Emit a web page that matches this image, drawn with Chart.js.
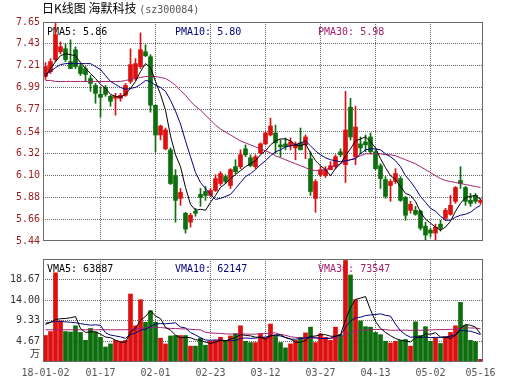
<!DOCTYPE html>
<html><head><meta charset="utf-8">
<script src="https://cdn.jsdelivr.net/npm/chart.js"></script>
<style>
html,body{margin:0;padding:0;background:#fff;width:530px;height:391px;overflow:hidden}
#c1{position:absolute;left:0;top:0}
#c2{position:absolute;left:0;top:250px}
#title{position:absolute;left:42px;top:0px;line-height:16px;font-size:12px;font-family:"Noto Sans CJK SC";color:#000;white-space:nowrap}
#title span{font-family:"DejaVu Sans Mono";font-size:10px;color:#555}
</style></head><body>
<canvas id="c1" width="530" height="250"></canvas>
<canvas id="c2" width="530" height="141"></canvas>
<div id="title">日K线图 海默科技 <span>(sz300084)</span></div>
<script>
// ---- data ----
const dateLabels = ['18-01-02','01-17','02-01','02-23','03-12','03-27','04-13','05-02','05-16'];
const dateIdx = [0,11,22,33,44,55,66,77,87];
const priceTicks = [5.44,5.66,5.88,6.10,6.32,6.54,6.77,6.99,7.21,7.43,7.65];
const volTicks = [4.67,9.33,14.00,18.67];
const volMax = 23.33;
const priceLegend = ['PMA5: 5.86','PMA10: 5.80','PMA30: 5.98'];
const volLegend = ['VMA5: 63887','VMA10: 62147','VMA30: 73547'];

const opens = [7.10,7.15,7.27,7.35,7.38,7.25,7.37,7.20,7.18,7.08,
7.01,6.92,6.99,6.90,6.88,6.88,6.91,7.05,7.08,7.20,
7.35,7.30,6.81,6.51,6.37,6.36,6.10,5.87,5.72,5.63,
5.74,5.91,5.94,5.90,5.95,6.02,6.09,6.00,6.19,6.19,
6.37,6.28,6.19,6.33,6.42,6.51,6.53,6.41,6.42,6.40,
6.38,6.43,6.41,6.27,5.87,6.11,6.10,6.16,6.19,6.34,
6.21,6.79,6.29,6.42,6.44,6.49,6.34,6.20,6.06,6.00,
6.04,6.07,5.88,5.75,5.75,5.74,5.59,5.55,5.52,5.61,
5.67,5.71,5.84,6.05,5.98,5.85,5.90,5.83];
const highs = [7.24,7.28,7.65,7.45,7.43,7.47,7.40,7.23,7.20,7.11,
7.03,6.99,7.01,6.91,6.93,6.93,7.03,7.38,7.28,7.54,
7.42,7.32,6.81,6.61,6.58,6.38,6.16,5.97,5.73,5.72,
5.77,5.97,5.99,5.97,6.11,6.14,6.11,6.17,6.26,6.36,
6.41,6.31,6.31,6.43,6.54,6.68,6.61,6.46,6.48,6.48,
6.44,6.58,6.51,6.34,6.06,6.19,6.19,6.24,6.31,6.37,
6.95,6.88,6.80,6.49,6.51,6.53,6.36,6.22,6.09,6.06,
6.17,6.09,5.89,5.84,5.79,5.75,5.63,5.57,5.61,5.65,
5.77,5.90,5.99,6.19,5.99,5.92,5.92,5.87];
const lows = [7.07,7.13,7.25,7.33,7.25,7.18,7.18,7.11,7.05,6.95,
6.83,6.69,6.90,6.80,6.71,6.85,6.90,7.03,7.06,7.18,
7.30,6.74,6.34,6.46,6.36,6.01,5.63,5.80,5.52,5.58,
5.69,5.79,5.85,5.89,5.94,6.00,6.02,5.97,6.12,6.17,
6.29,6.19,6.17,6.32,6.41,6.50,6.32,6.29,6.36,6.36,
6.26,6.36,6.27,5.90,5.73,6.09,6.08,6.16,6.17,6.29,
6.03,6.46,6.21,6.32,6.34,6.32,6.16,5.97,5.87,5.84,
6.02,5.84,5.65,5.72,5.70,5.55,5.45,5.48,5.45,5.54,
5.65,5.70,5.82,5.97,5.80,5.79,5.82,5.81];
const closes = [7.20,7.25,7.52,7.40,7.27,7.18,7.20,7.13,7.12,7.03,
6.93,6.89,6.92,6.85,6.90,6.91,7.01,7.22,7.23,7.37,
7.31,6.81,6.51,6.60,6.56,6.02,5.85,5.93,5.56,5.70,
5.72,5.88,5.90,5.95,6.07,6.12,6.04,6.16,6.14,6.31,
6.31,6.20,6.29,6.42,6.53,6.60,6.43,6.39,6.39,6.44,
6.42,6.36,6.49,5.94,6.04,6.16,6.16,6.20,6.29,6.31,
6.56,6.49,6.59,6.38,6.41,6.34,6.17,6.07,5.89,6.04,
6.12,5.85,5.70,5.81,5.71,5.57,5.50,5.52,5.58,5.57,
5.75,5.80,5.98,6.02,5.84,5.82,5.84,5.85];
const pma5 = [7.10,7.18,7.25,7.31,7.33,7.32,7.31,7.24,7.18,7.13,
7.08,7.02,6.98,6.92,6.90,6.89,6.92,6.98,7.05,7.15,
7.23,7.19,7.05,6.92,6.76,6.50,6.31,6.19,5.98,5.81,
5.75,5.76,5.75,5.83,5.90,5.98,6.02,6.07,6.11,6.15,
6.19,6.22,6.25,6.31,6.35,6.41,6.45,6.47,6.47,6.45,
6.41,6.40,6.42,6.33,6.25,6.20,6.16,6.10,6.17,6.22,
6.30,6.37,6.45,6.47,6.49,6.44,6.38,6.27,6.18,6.10,
6.06,5.99,5.92,5.90,5.84,5.73,5.66,5.62,5.58,5.55,
5.58,5.64,5.74,5.82,5.88,5.89,5.90,5.86];
const pma10 = [7.12,7.15,7.19,7.22,7.23,7.23,7.23,7.23,7.23,7.23,
7.20,7.17,7.11,7.05,7.02,6.99,6.97,6.98,6.99,7.02,
7.06,7.05,7.01,6.99,6.95,6.86,6.75,6.62,6.45,6.29,
6.13,6.03,5.97,5.91,5.86,5.87,5.89,5.91,5.97,6.03,
6.09,6.12,6.16,6.21,6.25,6.30,6.34,6.36,6.39,6.40,
6.41,6.43,6.45,6.40,6.35,6.31,6.28,6.26,6.25,6.24,
6.25,6.26,6.27,6.32,6.36,6.37,6.37,6.36,6.32,6.29,
6.25,6.19,6.10,6.04,5.97,5.89,5.83,5.77,5.74,5.69,
5.65,5.65,5.68,5.70,5.71,5.73,5.77,5.80];
const pma30 = [7.06,7.06,7.05,7.05,7.05,7.05,7.05,7.05,7.05,7.05,
7.05,7.05,7.05,7.05,7.05,7.05,7.06,7.07,7.08,7.09,
7.10,7.10,7.10,7.09,7.08,7.05,7.01,6.96,6.91,6.85,
6.80,6.76,6.71,6.66,6.61,6.57,6.54,6.51,6.48,6.45,
6.43,6.41,6.39,6.37,6.35,6.33,6.30,6.28,6.26,6.24,
6.22,6.20,6.18,6.16,6.15,6.15,6.16,6.18,6.20,6.22,
6.24,6.26,6.28,6.30,6.32,6.32,6.32,6.32,6.31,6.31,
6.30,6.28,6.26,6.24,6.22,6.19,6.16,6.13,6.10,6.07,
6.05,6.04,6.03,6.02,6.01,6.00,5.99,5.98];
const volume = [6.0,6.9,20.2,9.3,6.9,6.8,8.2,6.7,4.9,7.6,
6.8,5.6,3.4,4.1,4.9,4.7,4.9,15.4,8.2,14.1,
9.0,11.6,9.0,5.4,4.1,5.9,6.0,6.0,6.0,3.6,
3.6,5.4,3.8,4.7,4.9,5.6,4.9,5.9,6.4,8.2,
4.7,4.4,4.4,6.4,5.6,8.6,5.8,4.4,3.2,4.1,
4.9,5.6,6.6,7.9,4.4,6.4,5.6,4.9,7.9,6.2,
23.0,19.7,14.1,9.3,8.0,7.9,6.7,6.2,4.7,4.3,
4.7,4.9,5.1,3.6,9.1,6.0,8.0,4.7,5.4,4.2,
5.7,6.7,8.2,13.5,8.3,4.9,4.6,0.6];
const vma5 = [8.5,9.0,9.6,9.8,9.86,10.02,10.28,7.58,6.70,6.84,
6.84,6.32,5.66,5.50,4.96,4.54,4.40,6.80,7.62,9.46,
10.32,11.66,10.38,9.82,7.82,7.20,6.08,5.48,5.60,5.50,
5.04,4.92,4.48,4.22,4.48,4.88,4.78,5.20,5.54,6.20,
6.02,5.92,5.62,5.62,5.10,5.88,6.16,6.16,5.52,5.22,
4.48,4.44,4.88,5.82,5.88,6.18,6.18,5.84,5.84,6.20,
9.52,12.34,14.18,14.46,14.82,11.80,9.20,7.62,6.70,5.96,
5.32,4.96,4.74,4.52,5.48,5.74,6.36,6.28,6.64,5.66,
5.60,5.34,6.04,7.66,8.48,8.32,7.90,6.39];
const vma10 = [8.8,9.0,9.2,9.2,9.1,9.0,8.9,8.7,8.5,8.35,
8.43,8.30,6.62,6.10,5.90,5.69,5.36,6.23,6.56,7.21,
7.43,8.03,8.59,8.72,8.64,8.76,8.87,7.93,7.71,6.66,
6.12,5.50,4.98,4.91,4.99,4.96,4.85,4.84,4.88,5.34,
5.45,5.35,5.41,5.58,5.65,5.95,6.04,5.89,5.57,5.16,
5.18,5.30,5.52,5.67,5.55,5.33,5.31,5.36,5.83,6.04,
7.85,9.26,10.01,10.15,10.51,10.66,10.77,10.90,10.58,10.39,
8.56,7.08,6.18,5.61,5.72,5.53,5.66,5.51,5.58,5.57,
5.67,5.85,6.16,7.15,7.07,6.96,6.62,6.21];
const vma30 = [7.3,7.3,7.3,7.3,7.3,7.3,7.3,7.3,7.3,7.3,
7.3,7.3,7.3,7.3,7.3,7.3,7.3,7.4,7.5,7.6,
7.7,7.8,7.8,7.8,7.7,7.6,7.6,7.5,7.5,7.41,
7.33,7.28,6.73,6.58,6.51,6.47,6.36,6.33,6.38,6.40,
6.33,6.29,6.32,6.40,6.43,6.56,6.59,6.22,6.06,5.72,
5.58,5.38,5.30,5.39,5.40,5.42,5.40,5.36,5.42,5.51,
6.16,6.64,6.98,7.13,7.23,7.31,7.37,7.38,7.32,7.19,
7.19,7.21,7.23,7.14,7.26,7.17,7.24,7.25,7.32,7.33,
7.36,7.39,7.44,7.63,7.76,7.71,7.68,7.54];

// ---- drawing ----
const N = closes.length;
const idx = Array.from({length:N},(_, i)=>i);
const RED = '#dd1010', GREEN = '#0c6e0c';
const candleColor = idx.map(i => closes[i] >= opens[i] ? RED : GREEN);
const C5 = '#000000', C10 = '#000080', C30 = '#a3206e';
const GRID = '#666666';
const MONO = '"DejaVu Sans Mono"';

function line(arr, color){
  return {type:'line', data: idx.map(i=>({x:i+0.5, y:arr[i]})), borderColor:color,
    borderWidth:1, pointRadius:0, tension:0, fill:false, order:0};
}
const framePlugin = {id:'frame', afterDraw(chart){
  const a = chart.chartArea, ctx = chart.ctx;
  ctx.save(); ctx.strokeStyle = '#6a6a6a'; ctx.lineWidth = 1;
  ctx.strokeRect(a.left+0.5, a.top+0.5, a.right-a.left-1, a.bottom-a.top-1);
  ctx.restore();
}};
function legendPlugin(texts, extra){
  return {id:'lgd', beforeDatasetsDraw(chart){
    const a = chart.chartArea, ctx = chart.ctx;
    const xs = [47,175,318], cs = [C5, C10, C30];
    ctx.save(); ctx.font = '10px '+MONO; ctx.textBaseline='middle'; ctx.textAlign='left';
    texts.forEach((t,k)=>{ ctx.fillStyle = cs[k]; ctx.fillText(t, xs[k], a.top+10); });
    if (extra) extra(ctx, a);
    ctx.restore();
  }};
}
const xScaleBase = (showLabels) => ({
  type:'linear', min:0, max:88, offset:false,
  afterBuildTicks: s => { s.ticks = dateIdx.map(i=>({value:i+0.5})); },
  grid:{offset:false, drawTicks:false, color: c => (c.index>0 && c.index<dateIdx.length-1) ? GRID : 'rgba(0,0,0,0)'},
  border:{display:false, dash:[1,1]},
  ticks: showLabels ? {display:true, autoSkip:false, maxRotation:0, padding:5, color:'#555',
    font:{family:MONO, size:10}, callback:(v,k)=>dateLabels[k]} : {display:false},
  afterFit: s => { s.height = showLabels ? 20 : 0; }
});

new Chart(document.getElementById('c1'), {
  type:'bar',
  data:{datasets:[
    line(pma5, C5), line(pma10, C10), line(pma30, C30),
    {type:'bar', data: idx.map(i=>({x:i+0.5, y:[opens[i], closes[i]]})), backgroundColor:candleColor,
      barThickness:4, minBarLength:1, grouped:false, order:1},
    {type:'bar', data: idx.map(i=>({x:i+0.5, y:[lows[i], highs[i]]})), backgroundColor:candleColor,
      barThickness:1, grouped:false, order:2}
  ]},
  options:{
    responsive:false, animation:false, events:[],
    layout:{padding:{left:0, right:47, top:22, bottom:9}},
    plugins:{legend:{display:false}, tooltip:{enabled:false}},
    scales:{
      x: xScaleBase(false),
      y:{type:'linear', min:5.44, max:7.65,
        afterBuildTicks: s => { s.ticks = priceTicks.map(v=>({value:v})); },
        ticks:{color:'#991a1a', font:{family:MONO, size:10}, padding:3, callback:(v,k)=>priceTicks[k].toFixed(2)},
        grid:{drawTicks:false, color: c => (c.index>0 && c.index<priceTicks.length-1) ? GRID : 'rgba(0,0,0,0)'},
        border:{display:false, dash:[1,1]},
        afterFit: s => { s.width = 43; }}
    }
  },
  plugins:[legendPlugin(priceLegend), framePlugin]
});

new Chart(document.getElementById('c2'), {
  type:'bar',
  data:{datasets:[
    line(vma5, C5), line(vma10, C10), line(vma30, C30),
    {type:'bar', data: idx.map(i=>({x:i+0.5, y:volume[i]})), backgroundColor:candleColor,
      barThickness:4, grouped:false, order:1}
  ]},
  options:{
    responsive:false, animation:false, events:[],
    layout:{padding:{left:0, right:47, top:8, bottom:9}},
    plugins:{legend:{display:false}, tooltip:{enabled:false}},
    scales:{
      x: xScaleBase(true),
      y:{type:'linear', min:0, max:volMax,
        afterBuildTicks: s => { s.ticks = volTicks.map(v=>({value:v})); },
        ticks:{color:'#333', font:{family:MONO, size:10}, padding:3, callback:(v,k)=>volTicks[k].toFixed(2)},
        grid:{drawTicks:false, color: GRID},
        border:{display:false, dash:[1,1]},
        afterFit: s => { s.width = 43; }}
    }
  },
  plugins:[legendPlugin(volLegend, (ctx, a) => {
    ctx.fillStyle = '#333'; ctx.textAlign = 'right'; ctx.font = '10px "Noto Sans CJK SC"';
    ctx.fillText('万', a.left-3, a.bottom-9);
  }), framePlugin]
});
</script>
</body></html>
